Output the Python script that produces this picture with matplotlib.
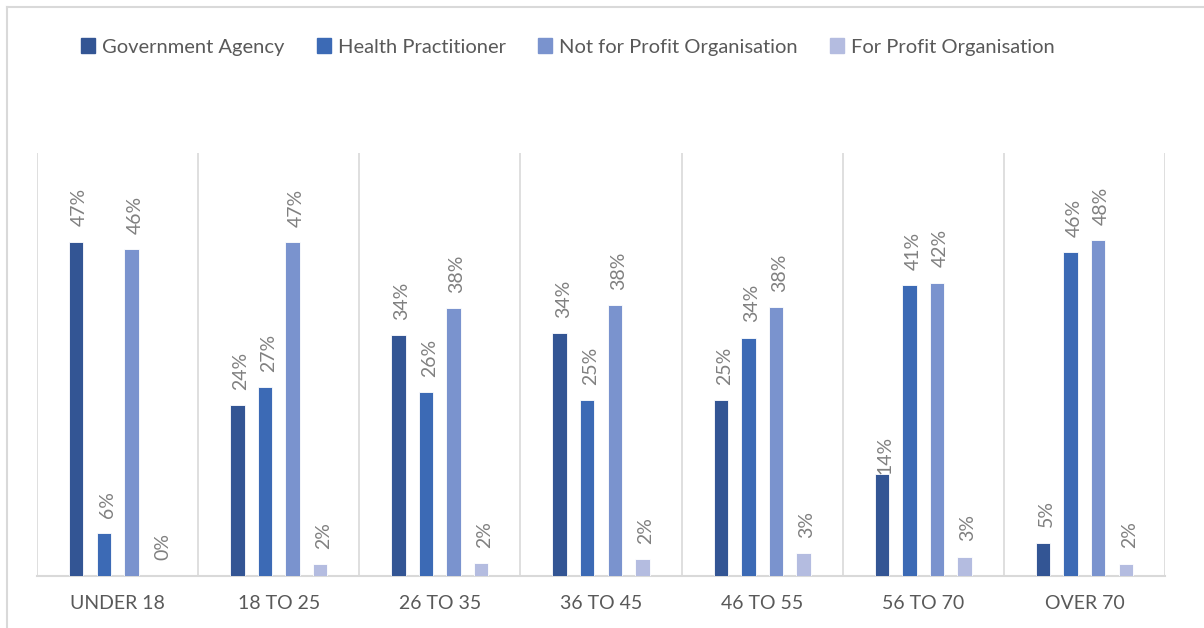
import matplotlib
matplotlib.use("Agg")
import matplotlib.pyplot as plt
import numpy as np
from matplotlib.lines import Line2D

categories = ["UNDER 18", "18 TO 25", "26 TO 35", "36 TO 45", "46 TO 55", "56 TO 70", "OVER 70"]
series_names = ["Government Agency", "Health Practitioner", "Not for Profit Organisation", "For Profit Organisation"]
government_agency = [47.4, 24.2, 34.1, 34.4, 24.9, 14.4, 4.7]
health_practitioner = [6.0, 26.8, 26.1, 24.9, 33.8, 41.2, 45.9]
not_for_profit = [46.4, 47.3, 38.0, 38.4, 38.1, 41.6, 47.6]
for_profit = [0.0, 1.6, 1.8, 2.3, 3.2, 2.7, 1.7]
colors = ["#335594", "#3C6AB5", "#7A93CE", "#B4BCE0"]

series = [government_agency, health_practitioner, not_for_profit, for_profit]

plt.rcParams['font.family'] = ['Lato', 'DejaVu Sans']

W, H = 1204, 628
fig = plt.figure(figsize=(W / 100, H / 100), dpi=100)
left, right, bottom, top = 37, 1165, 575.7, 153
ax = fig.add_axes([left / W, 1 - bottom / H, (right - left) / W, (bottom - top) / H])

n = len(categories)
x = np.arange(n)
step = 0.171
width = 0.089
for i, (vals, col) in enumerate(zip(series, colors)):
    pos = x + (i - 1.5) * step
    ax.bar(pos, vals, width=width, color=col, edgecolor='white', linewidth=0.6, zorder=3)
    for j, (p, v) in enumerate(zip(pos, vals)):
        dy = 11
        if i == 0 and j == 5:
            dy = 0
        ax.annotate(f"{round(v):.0f}%", xy=(p, v), xytext=(2.5, dy), textcoords='offset points',
                    rotation=90, ha='center', va='bottom', fontsize=14, color='#808080', zorder=4)

ax.set_xlim(-0.5, n - 0.5)
ax.set_ylim(0, 60)
ax.set_yticks([])
ax.set_xticks(x)
ax.set_xticklabels(categories, fontsize=14, color='#595959')
ax.tick_params(axis='x', length=0, pad=14)
for s in ['top', 'right', 'left']:
    ax.spines[s].set_visible(False)
ax.spines['bottom'].set_color('#d9d9d9')
ax.spines['bottom'].set_linewidth(1.5)
for b in np.arange(-0.5, n, 1.0):
    ax.axvline(b, color='#d9d9d9', linewidth=1.2, zorder=1)

# outer chart border
fig.add_artist(Line2D([7 / W, 7 / W], [0, 1 - 7 / H], color='#d9d9d9', linewidth=1.5, transform=fig.transFigure))
fig.add_artist(Line2D([7 / W, 1], [1 - 7 / H, 1 - 7 / H], color='#d9d9d9', linewidth=1.5, transform=fig.transFigure))

handles = [plt.Rectangle((0, 0), 1, 1, color=c) for c in colors]
fig.legend(handles, series_names, loc='center', bbox_to_anchor=(568 / W, 1 - 47 / H), ncol=4,
           frameon=False, fontsize=14.5, handlelength=0.7, handleheight=0.7, handletextpad=0.35,
           columnspacing=1.6, labelcolor='#595959')

fig.savefig("out.png", dpi=100)
